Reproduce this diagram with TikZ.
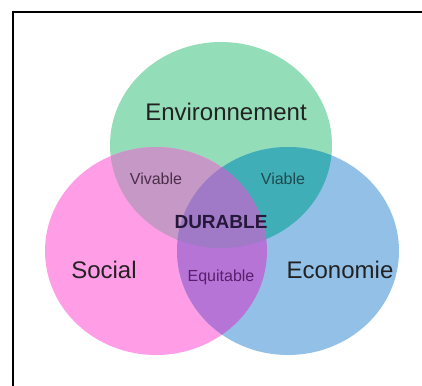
\documentclass[tikz,border=0pt]{standalone}
\usepackage{fontspec}
\setmainfont{Liberation Sans}
\definecolor{envgreen}{HTML}{94DDB9}
\definecolor{socpink}{HTML}{FF9EE6}
\definecolor{ecoblue}{HTML}{92C0E6}
\definecolor{vivfill}{HTML}{C698C6}
\definecolor{viafill}{HTML}{40AEB6}
\definecolor{equfill}{HTML}{B574D6}
\definecolor{durfill}{HTML}{A07AC6}
\definecolor{maintext}{HTML}{222222}
\definecolor{vivtext}{HTML}{4A2E4A}
\definecolor{viatext}{HTML}{1E4A50}
\definecolor{equtext}{HTML}{5A1E6E}
\definecolor{durtext}{HTML}{26183A}
\begin{document}
\begin{tikzpicture}[x=1pt,y=-1pt,
  big/.style={font=\fontsize{24}{28}\selectfont, text=maintext, inner sep=0pt},
  small/.style={font=\fontsize{16}{19}\selectfont, inner sep=0pt},
  core/.style={font=\fontsize{19}{22}\selectfont\bfseries, text=durtext, inner sep=0pt}]
\useasboundingbox (0,0) rectangle (422,385);
% the three sets
\def\envset{(221,145) ellipse [x radius=111pt, y radius=103pt]}
\def\socset{(156,251) ellipse [x radius=111pt, y radius=104pt]}
\def\ecoset{(288,251) ellipse [x radius=111pt, y radius=104pt]}
\fill[envgreen] \envset;
\fill[socpink] \socset;
\fill[ecoblue] \ecoset;
% pairwise overlaps
\begin{scope}\clip \socset; \fill[vivfill] \envset; \end{scope}
\begin{scope}\clip \envset; \fill[viafill] \ecoset; \end{scope}
\begin{scope}\clip \socset; \fill[equfill] \ecoset; \end{scope}
% common core
\begin{scope}\clip \socset; \clip \envset; \fill[durfill] \ecoset; \end{scope}
% frame
\draw[line width=2pt] (13,386) -- (13,12.5) -- (423,12.5);
% labels
\node[big] (env) at (226,112) {Environnement};
\node[big] (soc) at (104,270) {Social};
\node[big] (eco) at (340,270) {Economie};
\node[small, text=vivtext] (viv) at (156,179) {Vivable};
\node[small, text=viatext] (via) at (283,179) {Viable};
\node[small, text=equtext] (equ) at (221,277) {Equitable};
\node[core] (dur) at (221,222) {DURABLE};
\end{tikzpicture}
\end{document}
